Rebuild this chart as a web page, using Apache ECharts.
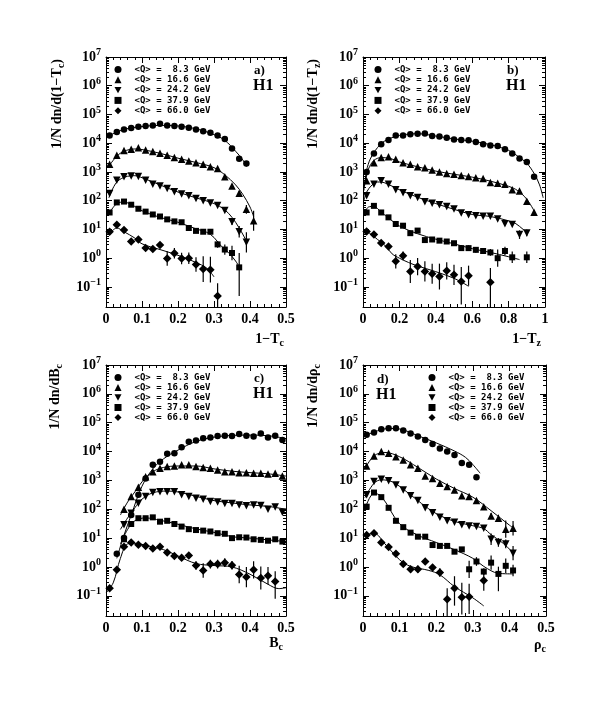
<!DOCTYPE html>
<html><head><meta charset="utf-8">
<script src="https://cdn.jsdelivr.net/npm/echarts@6/dist/echarts.min.js"></script>
<style>html,body{margin:0;padding:0;background:#fff}#c{width:603px;height:703px}</style>
</head><body><div id="c"></div>
<script>
// Legend labels (mean Q of each sample)
const qLabels = ['<Q> =  8.3 GeV', '<Q> = 16.6 GeV', '<Q> = 24.2 GeV', '<Q> = 37.9 GeV', '<Q> = 66.0 GeV'];

// y values are log10 of 1/N dn/dX (value axis labelled 10^n)
// ---------- a) 1-Tc ----------
const aBins = [0.01,0.03,0.05,0.07,0.09,0.11,0.13,0.15,0.17,0.19,0.21,0.23,0.25,0.27,0.29,0.31,0.33,0.35,0.37,0.39,0.41];
const aS1 = [4.27,4.39,4.48,4.53,4.57,4.60,4.62,4.68,4.62,4.60,4.57,4.54,4.48,4.42,4.36,4.27,4.15,3.82,3.46,3.29,null];
const aS2 = [3.27,3.58,3.75,3.79,3.84,3.76,3.71,3.65,3.58,3.50,3.44,3.38,3.32,3.27,3.18,3.12,2.83,2.51,2.26,1.70,1.30];
const aS3 = [2.25,2.71,2.83,2.86,2.84,2.71,2.57,2.51,2.42,2.31,2.23,2.17,2.08,2.00,1.92,1.83,1.66,1.27,0.92,0.55,null];
const aS4 = [1.59,1.94,1.97,1.86,1.72,1.62,1.52,1.45,1.35,1.28,1.25,1.05,0.95,0.92,0.92,0.48,0.30,0.18,-0.32,null,null];
const aS5 = [0.92,1.16,0.98,0.58,0.65,0.35,0.32,0.46,-0.01,0.17,-0.01,0.00,-0.22,-0.38,-0.40,-1.32,null,null,null,null,null];
const aE1 = [0,0,0,0,0,0,0,0,0,0,0,0,0,0,0,0,0,0.06,0.08,0.08,0];
const aE2 = [0,0,0,0,0,0,0,0,0,0,0,0,0,0,0,0,0,0,0.08,0.15,0.35];
const aE3 = [0,0,0,0,0,0,0,0,0,0,0,0,0,0,0,0,0,0.12,0.2,0.35,0];
const aE4 = [0,0,0,0,0,0,0,0,0,0,0,0,0,0,0,0.12,0.18,0.25,[1.0,0.5],0,0];
const aE5 = [0,0,0,0.08,0,0.1,0.1,0.08,0.25,0.18,0.2,0.2,0.25,0.45,0.45,[0.4,0.45],0,0,0,0,0];
const aF1 = [[0.01,4.27],[0.05,4.48],[0.1,4.58],[0.15,4.62],[0.2,4.6],[0.25,4.5],[0.3,4.3],[0.33,4.1],[0.36,3.72],[0.38,3.42],[0.39,3.18]];
const aF2 = [[0.008,3.2],[0.03,3.55],[0.05,3.72],[0.08,3.8],[0.1,3.78],[0.15,3.65],[0.2,3.48],[0.25,3.33],[0.3,3.15],[0.33,2.9],[0.36,2.55],[0.38,2.22],[0.40,1.78],[0.41,1.45]];
const aF3 = [[0.008,2.1],[0.03,2.65],[0.06,2.85],[0.08,2.87],[0.1,2.8],[0.15,2.55],[0.2,2.3],[0.25,2.1],[0.3,1.9],[0.33,1.68],[0.35,1.42],[0.37,1.05],[0.39,0.6]];
const aF4 = [[0.008,1.55],[0.03,1.9],[0.05,1.95],[0.08,1.8],[0.1,1.65],[0.15,1.42],[0.2,1.25],[0.25,1.02],[0.28,0.9],[0.3,0.72],[0.32,0.42],[0.34,0.2],[0.36,-0.1],[0.37,-0.3]];
const aF5 = [[0.01,0.85],[0.03,1.05],[0.05,0.92],[0.08,0.7],[0.1,0.5],[0.15,0.3],[0.2,0.1],[0.25,-0.15],[0.28,-0.35],[0.3,-0.65]];

// ---------- b) 1-Tz ----------
const bBins = [0.02,0.06,0.10,0.14,0.18,0.22,0.26,0.30,0.34,0.38,0.42,0.46,0.50,0.54,0.58,0.62,0.66,0.70,0.74,0.78,0.82,0.86,0.90,0.94];
const bS1 = [3.00,3.64,3.96,4.11,4.27,4.27,4.31,4.33,4.34,4.25,4.23,4.19,4.13,4.11,4.10,4.04,3.96,3.92,3.90,3.79,3.64,3.47,3.35,2.83];
const bS2 = [2.69,3.32,3.50,3.53,3.44,3.32,3.27,3.18,3.15,3.07,3.00,2.95,2.92,2.88,2.84,2.80,2.77,2.63,2.61,2.57,2.38,2.34,1.98,1.60];
const bS3 = [2.17,2.57,2.69,2.57,2.38,2.28,2.17,2.11,1.96,1.91,1.86,1.80,1.71,1.57,1.51,1.48,1.46,1.46,1.36,1.20,1.17,0.82,0.88,null];
const bS4 = [1.59,1.82,1.59,1.42,1.19,1.13,0.87,0.96,0.63,0.65,0.61,0.58,0.52,0.35,0.35,0.29,0.25,0.20,0.0,0.25,0.03,null,0.03,null];
const bS5 = [0.93,0.82,0.53,0.41,-0.11,0.08,-0.46,-0.29,-0.46,-0.54,-0.64,-0.44,-0.58,-0.81,-0.61,null,null,-0.84,null,null,null,null,null,null];
const bE1 = [0,0,0,0,0,0,0,0,0,0,0,0,0,0,0,0,0,0,0,0,0,0,0,0.05];
const bE2 = [0,0,0,0,0,0,0,0,0,0,0,0,0,0,0,0,0,0,0,0,0,0,0.06,0.08];
const bE3 = [0,0,0,0,0,0,0,0,0,0,0,0,0,0,0,0,0,0,0,0,0,0.15,0.12,0];
const bE4 = [0,0,0,0,0,0,0,0,0,0,0,0,0,0.1,0.1,0.1,0.1,0.12,0.3,0.15,0.2,0,0.2,0];
const bE5 = [0,0,0,0,0.25,0.15,0.4,0.3,0.35,0.35,0.45,0.3,0.35,[0.8,0.5],0.35,0,0,[0.9,0.5],0,0,0,0,0,0];
const bF1 = [[0.005,2.35],[0.02,3.05],[0.04,3.45],[0.08,3.85],[0.12,4.08],[0.2,4.27],[0.3,4.33],[0.4,4.25],[0.5,4.15],[0.6,4.07],[0.7,3.95],[0.8,3.75],[0.85,3.55],[0.9,3.3],[0.94,2.95],[0.97,2.55],[0.99,2.1]];
const bF2 = [[0.008,2.5],[0.03,3.1],[0.06,3.4],[0.1,3.5],[0.15,3.47],[0.2,3.35],[0.3,3.18],[0.4,3.03],[0.5,2.92],[0.6,2.82],[0.7,2.68],[0.8,2.5],[0.85,2.35],[0.9,2.05],[0.94,1.65]];
const bF3 = [[0.005,2.0],[0.02,2.3],[0.05,2.55],[0.08,2.65],[0.12,2.62],[0.2,2.38],[0.3,2.12],[0.4,1.9],[0.5,1.7],[0.6,1.52],[0.7,1.45],[0.8,1.3],[0.84,1.2],[0.88,1.0],[0.9,0.9]];
const bF4 = [[0.005,1.5],[0.03,1.78],[0.06,1.8],[0.1,1.6],[0.15,1.35],[0.2,1.12],[0.3,0.85],[0.4,0.66],[0.5,0.5],[0.6,0.33],[0.7,0.2],[0.8,0.05],[0.86,-0.05]];
const bF5 = [[0.005,0.95],[0.04,0.85],[0.08,0.65],[0.12,0.45],[0.16,0.15],[0.2,0.0],[0.25,-0.15],[0.3,-0.27],[0.4,-0.47],[0.5,-0.7],[0.56,-0.9],[0.58,-0.98]];

// ---------- c) Bc ----------
const cBins = [0.01,0.03,0.05,0.07,0.09,0.11,0.13,0.15,0.17,0.19,0.21,0.23,0.25,0.27,0.29,0.31,0.33,0.35,0.37,0.39,0.41,0.43,0.45,0.47,0.49];
const cS1 = [null,0.46,1.0,1.8,2.5,3.07,3.54,3.65,3.92,3.94,4.15,4.34,4.38,4.46,4.49,4.54,4.55,4.54,4.61,4.55,4.52,4.63,4.49,4.55,4.40];
const cS2 = [null,null,2.0,2.44,2.76,3.13,3.3,3.42,3.48,3.5,3.54,3.54,3.48,3.45,3.42,3.36,3.3,3.3,3.27,3.27,3.25,3.25,3.22,3.25,3.15];
const cS3 = [null,null,1.46,1.86,2.21,2.44,2.58,2.61,2.61,2.61,2.5,2.44,2.38,2.35,2.27,2.25,2.2,2.2,2.15,2.12,2.15,2.13,2.0,2.08,1.9];
const cS4 = [null,null,0.96,1.49,1.69,1.69,1.72,1.57,1.6,1.49,1.4,1.31,1.28,1.26,1.23,1.17,1.15,1.0,1.03,1.02,0.96,0.94,0.91,0.96,0.88];
const cS5 = [-0.74,-0.1,0.7,0.85,0.77,0.73,0.64,0.7,0.5,0.38,0.32,0.4,0.05,-0.12,0.1,0.1,0.15,0.06,-0.26,-0.35,-0.1,-0.38,-0.3,-0.5,null];
const cE1 = null, cE2 = null, cE3 = null, cE4 = null;
const cE5 = [0,0,0,0,0,0,0,0,0,0,0,0,0.15,0.25,0.15,0.15,0.15,0.15,0.3,0.35,0.3,0.4,0.3,[0.6,0.35],0];
const cF1 = [[0.03,0.3],[0.05,1.1],[0.07,1.8],[0.1,2.8],[0.13,3.4],[0.16,3.75],[0.2,4.05],[0.25,4.35],[0.3,4.5],[0.35,4.56],[0.4,4.57],[0.45,4.55],[0.5,4.45]];
const cF2 = [[0.04,1.8],[0.06,2.25],[0.08,2.6],[0.1,2.95],[0.13,3.3],[0.16,3.45],[0.2,3.5],[0.25,3.5],[0.3,3.4],[0.35,3.32],[0.4,3.27],[0.45,3.23],[0.5,3.15]];
const cF3 = [[0.04,1.3],[0.06,1.7],[0.08,2.05],[0.1,2.35],[0.13,2.57],[0.17,2.63],[0.2,2.6],[0.25,2.45],[0.3,2.3],[0.35,2.22],[0.4,2.15],[0.45,2.1],[0.5,2.0]];
const cF4 = [[0.04,0.8],[0.06,1.3],[0.08,1.6],[0.11,1.7],[0.15,1.62],[0.2,1.48],[0.25,1.32],[0.3,1.2],[0.35,1.05],[0.4,1.0],[0.45,0.94],[0.5,0.88]];
const cF5 = [[0.0,-0.9],[0.02,-0.55],[0.04,0.3],[0.06,0.8],[0.08,0.82],[0.12,0.72],[0.16,0.6],[0.2,0.38],[0.25,0.12],[0.3,0.05],[0.35,0.0],[0.4,-0.25],[0.45,-0.6],[0.48,-0.75],[0.5,-0.72]];

// ---------- d) rho_c ----------
const dBins = [0.01,0.03,0.05,0.07,0.09,0.11,0.13,0.15,0.17,0.19,0.21,0.23,0.25,0.27,0.29,0.31,0.33,0.35,0.37,0.39,0.41];
const dS1 = [4.58,4.66,4.77,4.81,4.81,4.73,4.63,4.52,4.40,4.26,4.11,4.0,3.88,3.6,3.54,3.11,null,null,null,null,null];
const dS2 = [3.5,3.85,4.0,3.94,3.82,3.71,3.54,3.42,3.15,3.07,2.9,2.79,2.67,2.47,2.44,2.3,2.09,1.77,1.69,1.31,1.34];
const dS3 = [2.5,2.96,3.04,2.99,2.84,2.67,2.47,2.3,2.05,1.88,1.72,1.6,1.55,1.46,1.42,1.40,1.34,0.96,0.85,0.80,0.48];
const dS4 = [2.09,2.58,2.42,2.05,1.6,1.38,1.19,1.05,1.05,0.76,0.73,0.73,0.53,0.61,-0.08,0.19,-0.16,0.15,-0.24,0.04,-0.12];
const dS5 = [1.11,1.17,0.85,0.69,0.46,0.10,-0.08,-0.08,0.19,-0.02,-0.19,-1.12,-0.74,-1.05,-1.03,null,-0.47,null,null,null,null];
const dE1 = null;
const dE2 = [0,0,0,0,0,0,0,0,0,0,0,0,0,0,0,0,0,0.1,0.12,0.3,0.25];
const dE3 = [0,0,0,0,0,0,0,0,0,0,0,0,0,0,0,0,0,0.2,0.15,0.15,0.25];
const dE4 = [0,0,0,0,0,0,0,0,0,0,0,0,0,0,0.3,0.15,0.12,0.25,[0.6,0.25],0.25,0.2];
const dE5 = [0,0,0,0,0,0.1,0.12,0.12,0.1,0.12,0.15,[0.6,0.38],[0.6,0.42],[0.6,0.5],[0.6,0.45],0,0.35,0,0,0,0];
const dF1 = [[0.005,4.55],[0.04,4.72],[0.07,4.8],[0.1,4.78],[0.15,4.55],[0.2,4.3],[0.25,4.02],[0.28,3.8],[0.3,3.55],[0.32,3.25]];
const dF2 = [[0.005,3.4],[0.03,3.85],[0.06,3.97],[0.1,3.82],[0.15,3.45],[0.2,3.05],[0.25,2.72],[0.3,2.42],[0.35,1.95],[0.4,1.45],[0.41,1.36]];
const dF3 = [[0.005,2.4],[0.03,2.9],[0.05,3.02],[0.08,2.95],[0.12,2.6],[0.16,2.2],[0.2,1.85],[0.25,1.58],[0.3,1.43],[0.33,1.33],[0.35,1.12],[0.38,0.85],[0.41,0.5]];
const dF4 = [[0.005,2.0],[0.03,2.55],[0.05,2.45],[0.1,1.5],[0.15,1.1],[0.2,0.85],[0.25,0.6],[0.3,0.3],[0.33,0.02],[0.37,-0.22],[0.41,-0.24]];
const dF5 = [[0.005,1.1],[0.03,1.17],[0.06,0.8],[0.1,0.25],[0.13,0.02],[0.18,-0.12],[0.21,-0.27],[0.25,-0.68],[0.3,-1.07],[0.33,-1.35]];

// Axis tick decades
const yDecades = [-1,0,1,2,3,4,5,6,7];

// ------------------------------------------------------------------
const SERIF = 'Liberation Serif';
const MONO = 'DejaVu Sans Mono';
const LOGMIN = Math.log10(0.02), LOGMAX = 7;
const minorY = [];
for (let n = -2; n <= 6; n++) for (let k = 2; k <= 9; k++) {
  const v = n + Math.log10(k);
  if (v > LOGMIN && v < LOGMAX) minorY.push(v);
}
const SYMS = ['circle', 'triangle', 'path://M0,0L10,0L5,9Z', 'rect', 'diamond'];
const SIZES = [6.5, 7.5, 7.5, 6, 8.5];

const panels = [
  {bins: aBins, ys: [aS1,aS2,aS3,aS4,aS5], errs: [aE1,aE2,aE3,aE4,aE5], fits: [aF1,aF2,aF3,aF4,aF5],
   xmax: 0.5, xstep: 0.1, grid: {left: 106, top: 57, width: 180, height: 250},
   legend: {left: 114.5, top: 65, gap: 1.3}},
  {bins: bBins, ys: [bS1,bS2,bS3,bS4,bS5], errs: [bE1,bE2,bE3,bE4,bE5], fits: [bF1,bF2,bF3,bF4,bF5],
   xmax: 1, xstep: 0.2, grid: {left: 363, top: 57, width: 182, height: 250},
   legend: {left: 374.5, top: 65, gap: 1.3}},
  {bins: cBins, ys: [cS1,cS2,cS3,cS4,cS5], errs: [cE1,cE2,cE3,cE4,cE5], fits: [cF1,cF2,cF3,cF4,cF5],
   xmax: 0.5, xstep: 0.1, grid: {left: 106, top: 365, width: 180, height: 251},
   legend: {left: 114.5, top: 373, gap: 1}},
  {bins: dBins, ys: [dS1,dS2,dS3,dS4,dS5], errs: [dE1,dE2,dE3,dE4,dE5], fits: [dF1,dF2,dF3,dF4,dF5],
   xmax: 0.5, xstep: 0.1, grid: {left: 363, top: 365, width: 183, height: 251},
   legend: {left: 428.5, top: 373, gap: 1}}
];

const black = '#000';
const labelFont = {fontFamily: SERIF, fontWeight: 'bold', fontSize: 14, color: black};
function powFmt(v) {
  const n = Math.round(v);
  return '{b|10}{s|' + (n < 0 ? '\u2212' + (-n) : n) + '}';
}

const grid = [], xAxis = [], yAxis = [], series = [], legend = [];
panels.forEach((p, gi) => {
  grid.push(Object.assign({containLabel: false}, p.grid));
  const xBase = {type: 'value', gridIndex: gi, min: 0, max: p.xmax, interval: p.xstep,
    splitLine: {show: false}, minorSplitLine: {show: false},
    axisLine: {show: true, onZero: false, lineStyle: {color: black, width: 1}},
    axisTick: {show: true, inside: true, length: 6, lineStyle: {color: black}},
    minorTick: {show: true, splitNumber: 5, length: 3, lineStyle: {color: black}}};
  xAxis.push(Object.assign({}, xBase, {position: 'bottom',
    axisLabel: Object.assign({margin: 5}, labelFont)}));
  xAxis.push(Object.assign({}, xBase, {position: 'top', axisLabel: {show: false}}));
  const yBase = {type: 'value', gridIndex: gi, min: LOGMIN, max: LOGMAX, splitLine: {show: false}};
  yAxis.push(Object.assign({}, yBase, {position: 'left',
    axisLine: {show: true, onZero: false, lineStyle: {color: black, width: 1}},
    axisTick: {show: true, inside: true, length: 6, customValues: yDecades, lineStyle: {color: black}},
    axisLabel: {show: true, margin: 5, customValues: yDecades, formatter: powFmt,
      rich: {b: {fontFamily: SERIF, fontWeight: 'bold', fontSize: 14, color: black, verticalAlign: 'middle'},
             s: {fontFamily: SERIF, fontWeight: 'bold', fontSize: 10, color: black, verticalAlign: 'middle', padding: [0, 0, 9, 0]}}}}));
  yAxis.push(Object.assign({}, yBase, {position: 'left',
    axisLine: {show: false, onZero: false},
    axisTick: {show: true, inside: true, length: 3, customValues: minorY, lineStyle: {color: black}},
    axisLabel: {show: false}}));
  yAxis.push(Object.assign({}, yBase, {position: 'right',
    axisLine: {show: true, onZero: false, lineStyle: {color: black, width: 1}},
    axisTick: {show: true, inside: true, length: 6, customValues: yDecades, lineStyle: {color: black}},
    axisLabel: {show: false}}));
  yAxis.push(Object.assign({}, yBase, {position: 'right',
    axisLine: {show: false, onZero: false},
    axisTick: {show: true, inside: true, length: 3, customValues: minorY, lineStyle: {color: black}},
    axisLabel: {show: false}}));

  const xi = gi * 2, yi = gi * 4;
  const errData = [];
  p.ys.forEach((ys, k) => {
    const pts = [];
    ys.forEach((y, j) => {
      if (y === null) return;
      pts.push([p.bins[j], y]);
      const e = p.errs[k] ? p.errs[k][j] : 0;
      if (e) {
        const lo = Array.isArray(e) ? e[0] : e, hi = Array.isArray(e) ? e[1] : e;
        errData.push([p.bins[j], y, lo, hi]);
      }
    });
    series.push({type: 'scatter', name: qLabels[k], xAxisIndex: xi, yAxisIndex: yi,
      symbol: SYMS[k], symbolSize: SIZES[k], itemStyle: {color: black, opacity: 1}, data: pts, z: 4, silent: true});
    series.push({type: 'line', name: 'fit' + gi + k, xAxisIndex: xi, yAxisIndex: yi,
      data: p.fits[k], showSymbol: false, symbol: 'none', smooth: 0.35,
      lineStyle: {color: black, width: 1}, z: 3, silent: true});
  });
  series.push({type: 'custom', name: 'err' + gi, xAxisIndex: xi, yAxisIndex: yi, data: errData,
    encode: {x: 0, y: 1}, z: 3, silent: true,
    renderItem: function (params, api) {
      const x = api.value(0), y = api.value(1), lo = api.value(2), hi = api.value(3);
      const p1 = api.coord([x, Math.max(LOGMIN, y - lo)]);
      const p2 = api.coord([x, Math.min(LOGMAX, y + hi)]);
      return {type: 'line', shape: {x1: p1[0], y1: p1[1], x2: p2[0], y2: p2[1]},
        style: {stroke: black, lineWidth: 1.2}};
    }});
  legend.push({data: qLabels, orient: 'vertical', left: p.legend.left, top: p.legend.top,
    itemWidth: 7, itemHeight: 7, itemGap: p.legend.gap, padding: 0, selectedMode: false,
    itemStyle: {color: black, opacity: 1},
    textStyle: {fontFamily: MONO, fontWeight: 'bold', fontSize: 9, color: black, padding: [0, 0, 0, 8]}});
});

const subRich = {sub: {fontFamily: SERIF, fontWeight: 'bold', fontSize: 10, fill: black, padding: [8, 0, 0, 0]}};
function txt(x, y, text, size, align, rot) {
  return {type: 'text', x: x, y: y, rotation: rot || 0, silent: true,
    style: {text: text, font: 'bold ' + size + 'px ' + SERIF, fill: black,
      align: align, verticalAlign: 'middle', rich: subRich}};
}
const graphic = [
  txt(57, 59, '1/N dn/d(1\u2212T{sub|c})', 14, 'right', Math.PI / 2),
  txt(313, 59, '1/N dn/d(1\u2212T{sub|z})', 14, 'right', Math.PI / 2),
  txt(55, 364, '1/N dn/dB{sub|c}', 14, 'right', Math.PI / 2),
  txt(313, 364, '1/N dn/d\u03c1{sub|c}', 14, 'right', Math.PI / 2),
  txt(284, 339, '1\u2212T{sub|c}', 14, 'right'),
  txt(541, 339, '1\u2212T{sub|z}', 14, 'right'),
  txt(283, 643, 'B{sub|c}', 14, 'right'),
  txt(546, 645, '\u03c1{sub|c}', 14, 'right'),
  txt(254, 71, 'a)', 13, 'left'),
  txt(253, 86, 'H1', 16, 'left'),
  txt(507, 71, 'b)', 13, 'left'),
  txt(506, 86, 'H1', 16, 'left'),
  txt(254, 379, 'c)', 13, 'left'),
  txt(253, 394, 'H1', 16, 'left'),
  txt(377, 380, 'd)', 13, 'left'),
  txt(376, 395, 'H1', 16, 'left')
];

const chart = echarts.init(document.getElementById('c'), null, {renderer: 'canvas'});
chart.setOption({backgroundColor: '#fff', animation: false, grid, xAxis, yAxis, series, legend, graphic});
</script></body></html>
